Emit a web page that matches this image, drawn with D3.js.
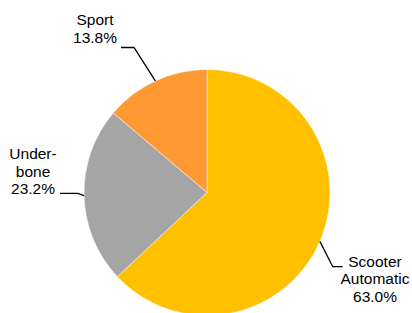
<!DOCTYPE html>
<html>
<head>
<meta charset="utf-8">
<script src="https://cdn.jsdelivr.net/npm/d3@7"></script>
<style>
  html, body { margin: 0; padding: 0; background: #fff; }
  svg { display: block; }
  text { font-family: "Liberation Sans", Arial, sans-serif; font-size: 15.5px; fill: #000; }
</style>
</head>
<body>
<div id="chart"></div>
<script>
// Data
const categories = ['Scooter Automatic', 'Underbone', 'Sport'];
const shares = [63.0, 23.2, 13.8];
const labelLines = [['Scooter', 'Automatic', '63.0%'], ['Under-', 'bone', '23.2%'], ['Sport', '13.8%']];

// Layout
const width = 412, height = 313;
const cx = 207, cy = 192.5, radius = 123;
const colors = ['#FFC000', '#A5A5A5', '#FF9933'];
// leader elbow / end offsets relative to centre, and label anchor
const leaders = [
  { elbow: [125.7, 74.2], end: [135.7, 74.2], text: [168, 74.2], anchor: 'middle' },
  { elbow: [-129, 0.8], end: [-147, 0.8], text: [-174, -33.2], anchor: 'middle' },
  { elbow: [-73, -145], end: [-86, -145], text: [-112, -167.5], anchor: 'middle' }
];

const svg = d3.select('#chart').append('svg')
  .attr('width', width)
  .attr('height', height);

const g = svg.append('g').attr('transform', `translate(${cx},${cy})`);

const pie = d3.pie().sort(null).value(d => d);
const arcs = pie(shares);
const arc = d3.arc().innerRadius(0).outerRadius(radius);

g.selectAll('path.slice')
  .data(arcs)
  .join('path')
  .attr('class', 'slice')
  .attr('d', arc)
  .attr('fill', (d, i) => colors[i])
  .attr('stroke', '#fff')
  .attr('stroke-width', 0.5);

// Leader lines start at the middle of each slice's outer edge
const edgePoint = d => {
  const a = (d.startAngle + d.endAngle) / 2;
  return [radius * Math.sin(a), -radius * Math.cos(a)];
};

g.selectAll('path.leader')
  .data(arcs)
  .join('path')
  .attr('class', 'leader')
  .attr('fill', 'none')
  .attr('stroke', '#000')
  .attr('stroke-width', 1.3)
  .attr('d', (d, i) => d3.line()([edgePoint(d), leaders[i].elbow, leaders[i].end]));

// Labels
const lineH = 17.5;
g.selectAll('text.label')
  .data(arcs)
  .join('text')
  .attr('class', 'label')
  .attr('text-anchor', (d, i) => leaders[i].anchor)
  .each(function(d, i) {
    const t = d3.select(this);
    const lines = labelLines[i];
    const [tx, ty] = leaders[i].text;
    lines.forEach((s, k) => {
      t.append('tspan')
        .attr('x', tx)
        .attr('y', ty + k * lineH)
        .text(s);
    });
  });
</script>
</body>
</html>
